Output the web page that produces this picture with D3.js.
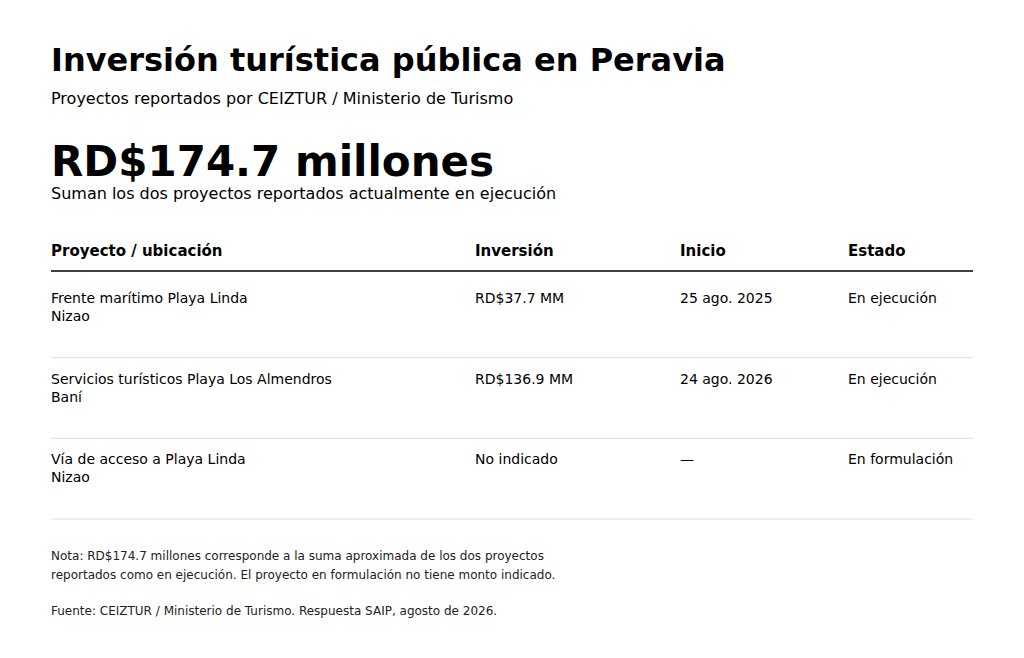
<!DOCTYPE html>
<html><head><meta charset="utf-8">
<script src="https://cdn.jsdelivr.net/npm/d3@7"></script>
<style>body{margin:0;background:#fff}svg{font-family:"DejaVu Sans",sans-serif}</style>
</head><body><svg id="c" width="1024" height="658"></svg>
<script>
const headers = ["Proyecto / ubicación","Inversión","Inicio","Estado"];
const projects = ["Frente marítimo Playa Linda","Servicios turísticos Playa Los Almendros","Vía de acceso a Playa Linda"];
const locations = ["Nizao","Baní","Nizao"];
const investments = ["RD$37.7 MM","RD$136.9 MM","No indicado"];
const starts = ["25 ago. 2025","24 ago. 2026","—"];
const statuses = ["En ejecución","En ejecución","En formulación"];

const svg = d3.select("#c");
const L = 51, R = 973;
const colX = d3.scaleOrdinal().domain(headers).range([51,475,680,848]);
const rowY = d3.scaleBand().domain(d3.range(projects.length)).range([277,519]);

function txt(x,y,s,size,weight,fill){
  return svg.append("text").attr("x",x).attr("y",y).attr("font-size",size)
    .attr("font-weight",weight||"normal").attr("fill",fill||"#000").text(s);
}
txt(L,71,"Inversión turística pública en Peravia",32,"bold");
txt(L,104,"Proyectos reportados por CEIZTUR / Ministerio de Turismo",16);
txt(L,176,"RD$174.7 millones",42,"bold");
txt(L,199,"Suman los dos proyectos reportados actualmente en ejecución",16);

headers.forEach(h=>txt(colX(h),256,h,15,"bold"));
svg.append("line").attr("x1",L).attr("x2",R).attr("y1",271).attr("y2",271).attr("stroke","#000").attr("stroke-width",1.5);

projects.forEach((p,i)=>{
  const y = rowY(i);
  txt(colX(headers[0]),y+26,p,14);
  txt(colX(headers[0]),y+44,locations[i],14);
  txt(colX(headers[1]),y+26,investments[i],14);
  txt(colX(headers[2]),y+26,starts[i],14);
  txt(colX(headers[3]),y+26,statuses[i],14);
  svg.append("line").attr("x1",L).attr("x2",R).attr("y1",y+rowY.bandwidth()).attr("y2",y+rowY.bandwidth()).attr("stroke","#ddd").attr("stroke-width",1);
});

txt(L,560,"Nota: RD$174.7 millones corresponde a la suma aproximada de los dos proyectos",12,"normal","#222");
txt(L,579,"reportados como en ejecución. El proyecto en formulación no tiene monto indicado.",12,"normal","#222");
txt(L,615,"Fuente: CEIZTUR / Ministerio de Turismo. Respuesta SAIP, agosto de 2026.",12,"normal","#222");
</script></body></html>
